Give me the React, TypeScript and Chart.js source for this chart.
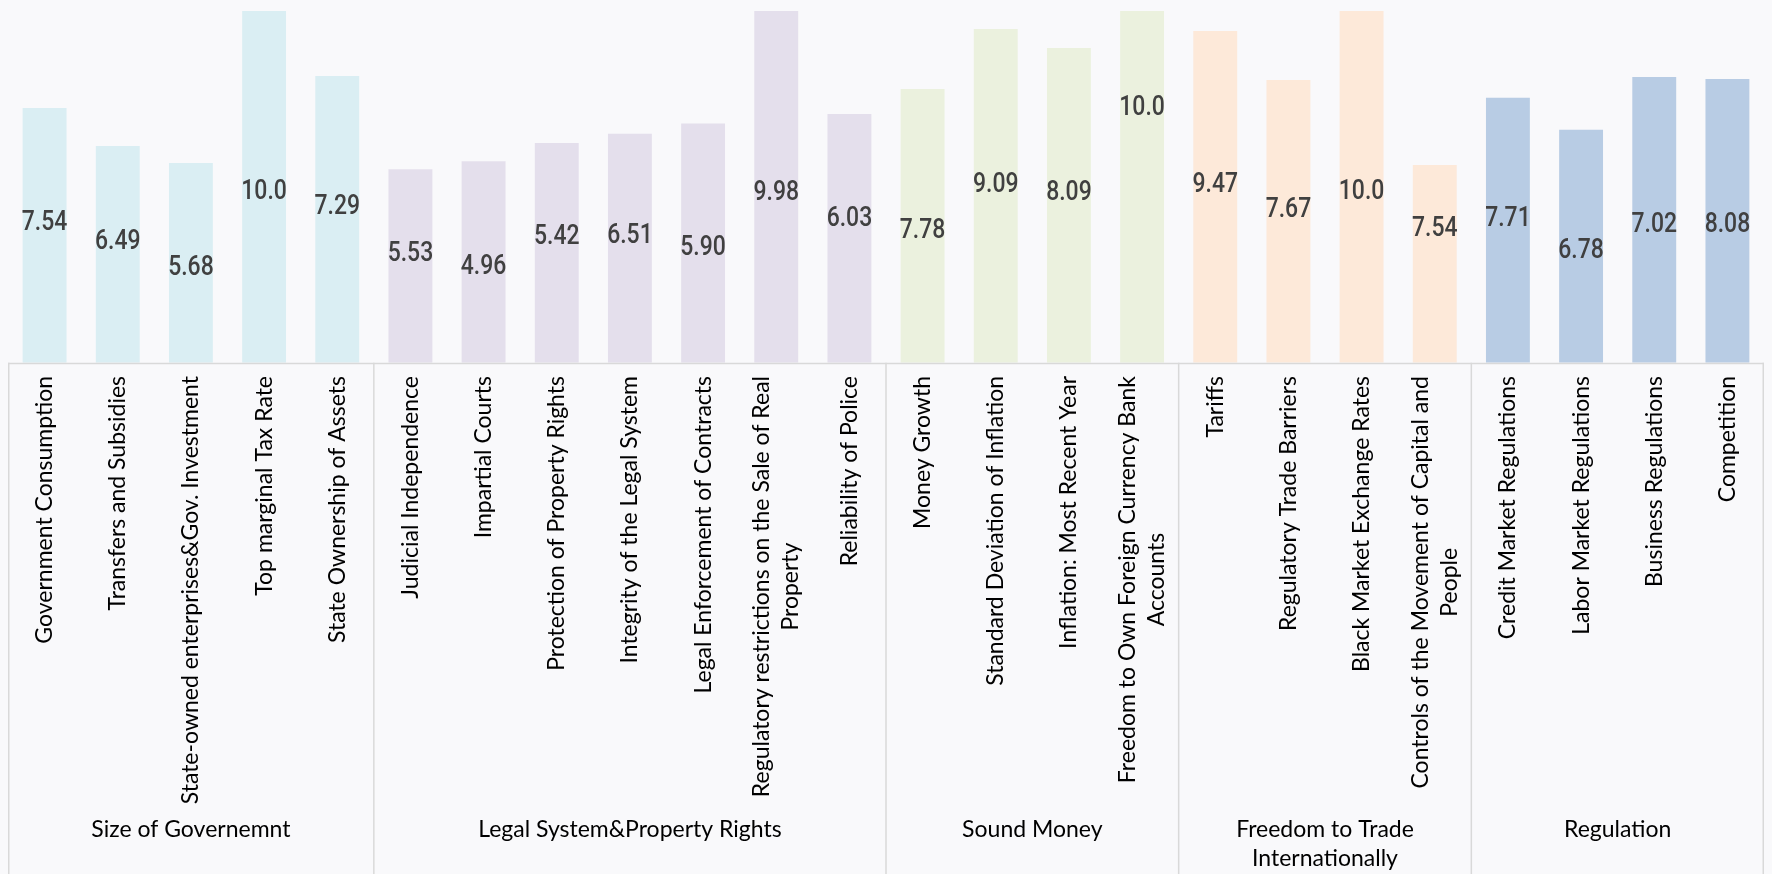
import React, { useEffect, useRef } from "react";
import { Chart, registerables } from "chart.js";

Chart.register(...registerables);

// ---- data ----
const categories: (string | string[])[] = [
  "Government Consumption",
  "Transfers and Subsidies",
  "State-owned enterprises&Gov. Investment",
  "Top marginal Tax Rate",
  "State Ownership of Assets",
  "Judicial Independence",
  "Impartial Courts",
  "Protection of Property Rights",
  "Integrity of the Legal System",
  "Legal Enforcement of Contracts",
  ["Regulatory restrictions on the Sale of Real", "Property"],
  "Reliability of Police",
  "Money Growth",
  "Standard Deviation of Inflation",
  "Inflation: Most Recent Year",
  ["Freedom to Own Foreign Currency Bank", "Accounts"],
  "Tariffs",
  "Regulatory Trade Barriers",
  "Black Market Exchange Rates",
  ["Controls of the Movement of Capital and", "People"],
  "Credit Market Regulations",
  "Labor Market Regulations",
  "Business Regulations",
  "Competition",
];

const groupNames: string[][] = [
  ["Size of Governemnt"],
  ["Legal System&Property Rights"],
  ["Sound Money"],
  ["Freedom to Trade", "Internationally"],
  ["Regulation"],
];
const groupSizes = [5, 7, 4, 4, 4];

const barValues = [
  7.24, 6.16, 5.68, 10, 8.15,
  5.5, 5.73, 6.25, 6.51, 6.8, 10, 7.07,
  7.78, 9.49, 8.95, 10,
  9.43, 8.04, 10, 5.62,
  7.53, 6.62, 8.12, 8.07,
];

const scoreLabels = [
  "7.54", "6.49", "5.68", "10.0", "7.29",
  "5.53", "4.96", "5.42", "6.51", "5.90", "9.98", "6.03",
  "7.78", "9.09", "8.09", "10.0",
  "9.47", "7.67", "10.0", "7.54",
  "7.71", "6.78", "7.02", "8.08",
];

// height (in axis units) at which each score label sits
const labelAnchor = [
  4.05, 3.51, 2.77, 4.95, 4.51,
  3.18, 2.81, 3.65, 3.68, 3.34, 4.91, 4.18,
  3.82, 5.15, 4.9, 7.32,
  5.13, 4.44, 4.95, 3.88,
  4.18, 3.25, 4.01, 3.99,
];

const groupColors = ["#DAEEF3", "#E4DFEC", "#EBF1DE", "#FDE9D9", "#B8CCE4"];

const BG = "#f9f9fb";
const W = 1756;
const H = 866;

const barColors: string[] = [];
groupSizes.forEach((n, g) => {
  for (let k = 0; k < n; k++) barColors.push(groupColors[g]);
});

const axisPlugin = {
  id: "multiLevelAxis",
  beforeDraw(chart: any) {
    const ctx = chart.ctx;
    ctx.save();
    ctx.fillStyle = BG;
    ctx.fillRect(0, 0, chart.width, chart.height);
    ctx.restore();
  },
  afterDraw(chart: any) {
    const ctx: CanvasRenderingContext2D = chart.ctx;
    const area = chart.chartArea;
    const xs = chart.scales.x;
    const step = xs.getPixelForValue(1) - xs.getPixelForValue(0);
    const barMeta = chart.getDatasetMeta(0);
    const anchorMeta = chart.getDatasetMeta(1);

    ctx.save();
    // score labels
    ctx.fillStyle = "#404040";
    ctx.font = "500 28px Roboto";
    ctx.textAlign = "center";
    ctx.textBaseline = "alphabetic";
    scoreLabels.forEach((t, i) => {
      const x = barMeta.data[i].x;
      const y = anchorMeta.data[i].y;
      ctx.save();
      ctx.translate(x, y + 10);
      ctx.scale(0.82, 1);
      ctx.fillText(t, 0, 0);
      ctx.restore();
    });

    // axis frame
    ctx.strokeStyle = "#d9d9d9";
    ctx.lineWidth = 1.5;
    ctx.beginPath();
    ctx.moveTo(area.left, area.bottom + 0.75);
    ctx.lineTo(area.right, area.bottom + 0.75);
    ctx.stroke();
    let idx = 0;
    const bounds = [0];
    groupSizes.forEach((n) => {
      idx += n;
      bounds.push(idx);
    });
    bounds.forEach((b) => {
      let x = area.left + b * step;
      x = Math.min(Math.max(x, 0.75), chart.width - 0.75);
      ctx.beginPath();
      ctx.moveTo(x, area.bottom);
      ctx.lineTo(x, chart.height);
      ctx.stroke();
    });

    // category labels (rotated)
    ctx.fillStyle = "#000";
    ctx.font = "23px Lato";
    const lh = 29;
    const yTop = area.bottom + 13.3;
    categories.forEach((c, i) => {
      const lines = Array.isArray(c) ? c : [c];
      const x = xs.getPixelForValue(i);
      const wMax = Math.max(...lines.map((l) => ctx.measureText(l).width));
      lines.forEach((l, j) => {
        ctx.save();
        ctx.translate(x + (j - (lines.length - 1) / 2) * lh, yTop + wMax / 2);
        ctx.rotate(-Math.PI / 2);
        ctx.textAlign = "center";
        ctx.textBaseline = "middle";
        ctx.fillText(l, 0, 0);
        ctx.restore();
      });
    });

    // group labels
    ctx.textAlign = "center";
    ctx.textBaseline = "alphabetic";
    let start = 0;
    groupNames.forEach((g, gi) => {
      const cx = area.left + (start + groupSizes[gi] / 2) * step;
      g.forEach((l, j) => {
        ctx.fillText(l, cx, 829.3 + j * 28.7);
      });
      start += groupSizes[gi];
    });
    ctx.restore();
  },
};

export default function App() {
  const ref = useRef<HTMLCanvasElement | null>(null);
  useEffect(() => {
    document.body.style.background = BG;
    document.documentElement.style.overflow = "hidden";
    const canvas = ref.current;
    if (!canvas) return;
    const chart = new Chart(canvas, {
      type: "bar",
      data: {
        labels: categories as any,
        datasets: [
          {
            type: "bar",
            data: barValues,
            backgroundColor: barColors,
            borderWidth: 0,
            barPercentage: 0.6,
            categoryPercentage: 1,
          } as any,
          {
            type: "line",
            data: labelAnchor,
            showLine: false,
            pointRadius: 0,
            pointHoverRadius: 0,
            borderWidth: 0,
          } as any,
        ],
      },
      options: {
        responsive: false,
        maintainAspectRatio: false,
        animation: false,
        events: [],
        layout: { padding: { top: 3, bottom: 511.3, left: 0, right: 0 } },
        plugins: {
          legend: { display: false },
          tooltip: { enabled: false },
        },
        scales: {
          x: { display: false, grid: { display: false } },
          y: { display: false, min: 0, max: 10, grid: { display: false } },
        },
      },
      plugins: [axisPlugin],
    });
    return () => chart.destroy();
  }, []);
  return (
    <div style={{ width: W, height: H }}>
      <canvas ref={ref} width={W} height={H} style={{ display: "block", width: W, height: H }} />
    </div>
  );
}
